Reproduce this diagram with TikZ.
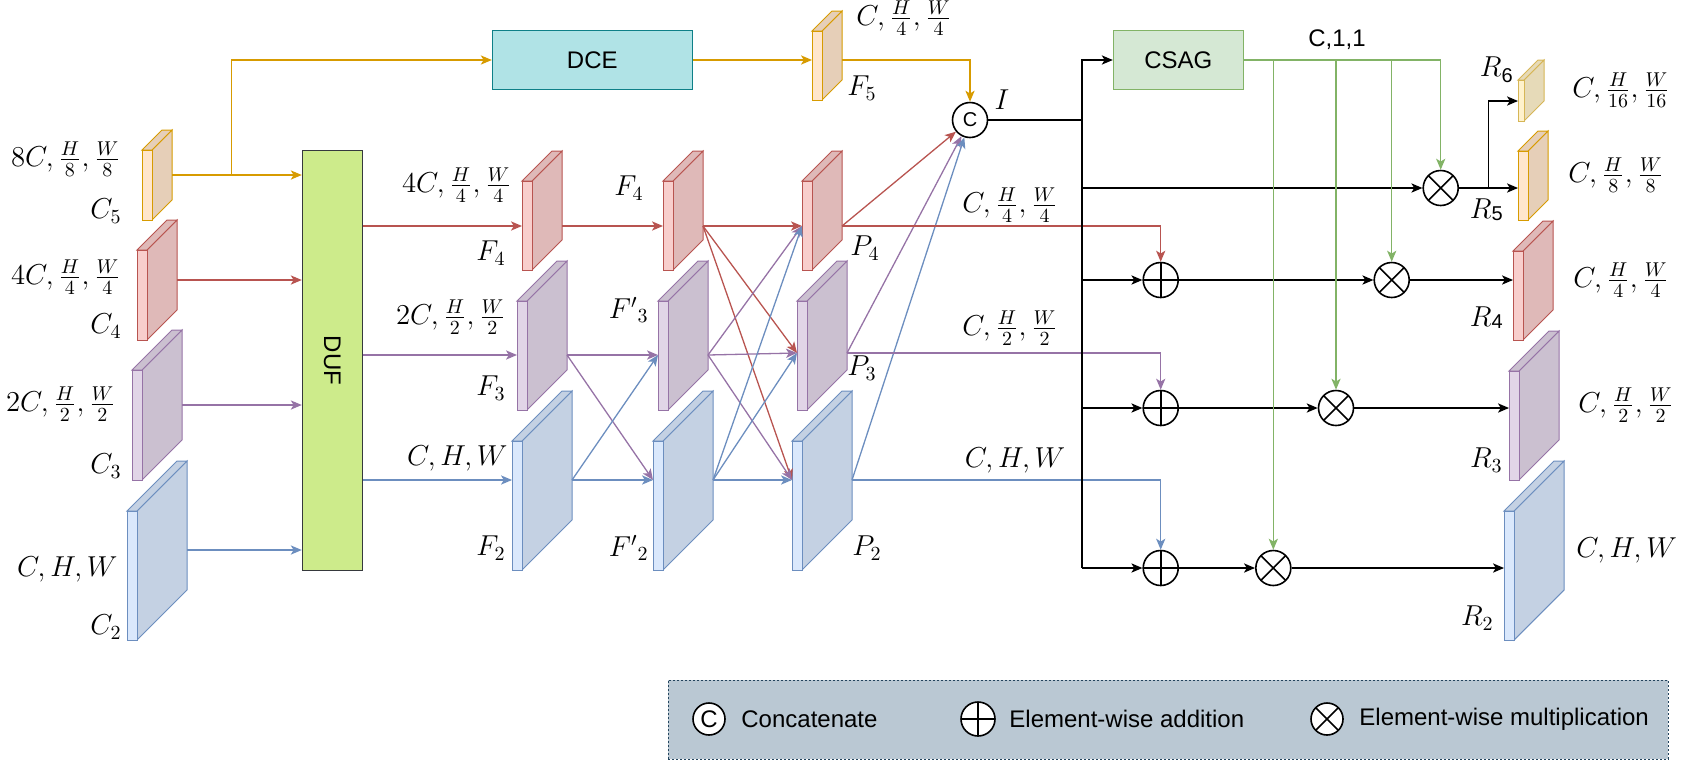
\documentclass[tikz,border=0pt]{standalone}
\usepackage{fontspec}
\setsansfont{Liberation Sans}
\usepackage{tikz}
\usetikzlibrary{arrows.meta, positioning}
\usepackage{xcolor}

\definecolor{yelline}{HTML}{D79B00}\definecolor{yelfront}{HTML}{FFE6CC}\definecolor{yelside}{HTML}{E6CFB8}
\definecolor{redline}{HTML}{B85450}\definecolor{redfront}{HTML}{F8CECC}\definecolor{redside}{HTML}{DFB9B8}
\definecolor{purline}{HTML}{9673A6}\definecolor{purfront}{HTML}{E1D5E7}\definecolor{purside}{HTML}{CBC0D0}
\definecolor{bluline}{HTML}{6C8EBF}\definecolor{blufront}{HTML}{DAE8FC}\definecolor{bluside}{HTML}{C4D1E3}
\definecolor{ltyline}{HTML}{D6B656}\definecolor{ltyfront}{HTML}{FFF2CC}\definecolor{ltyside}{HTML}{E6DAB8}
\definecolor{grnline}{HTML}{82B366}\definecolor{grnfill}{HTML}{D5E8D4}
\definecolor{dufline}{HTML}{36393D}\definecolor{duffill}{HTML}{CDEB8B}
\definecolor{dceline}{HTML}{0E8088}\definecolor{dcefill}{HTML}{B0E3E6}
\definecolor{legline}{HTML}{23445D}\definecolor{legfill}{HTML}{BAC8D3}

% feature map: name, x, y, w, h, depth, arrow y, colour
\newcommand{\fmap}[8]{%
  \filldraw[fill=#8side,draw=#8line,line width=0.5pt] (#2+#4-#6,#3+#6) -- (#2+#4,#3) -- (#2+#4,#3+#5-#6) -- (#2+#4-#6,#3+#5) -- cycle;
  \filldraw[fill=#8side,draw=#8line,line width=0.5pt] (#2,#3+#6) -- (#2+#6,#3) -- (#2+#4,#3) -- (#2+#4-#6,#3+#6) -- cycle;
  \filldraw[fill=#8front,draw=#8line,line width=0.5pt] (#2,#3+#6) rectangle (#2+#4-#6,#3+#5);
  \coordinate (#1-in) at (#2,#7);\coordinate (#1-out) at (#2+#4,#7);}

\begin{document}
\begin{tikzpicture}[x=0.5pt,y=-0.5pt,
    lbl/.style={font=\Large,inner sep=0pt},
    sflbl/.style={font=\sffamily\large,inner sep=0pt},
    arr/.style={-{Stealth[length=5.5pt,width=4.6pt,inset=1.4pt]},line width=0.65pt},
    blk/.style={arr,black,line width=0.75pt},
    busline/.style={line width=1.1pt},
    op/.style={draw,circle,line width=0.8pt,fill=white,minimum size=17.5pt,inner sep=0pt},
    addop/.style={op,path picture={\draw[line width=0.8pt] (path picture bounding box.north) -- (path picture bounding box.south)
        (path picture bounding box.west) -- (path picture bounding box.east);}},
    mulop/.style={op,path picture={\draw[line width=0.8pt] (path picture bounding box.center) ++(45:12pt) -- ++(225:24pt)
        (path picture bounding box.center) ++(135:12pt) -- ++(315:24pt);}},
    catop/.style={op,font=\sffamily},
    box/.style={draw,line width=0.5pt,minimum height=29.7pt,font=\sffamily\large}]
    \useasboundingbox (0,0) rectangle (1689,761);

    \fmap{C5}{142}{130}{30}{90}{20}{175}{yel}
    \fmap{C4}{137}{220}{40}{120}{30}{280}{red}
    \fmap{C3}{132}{330}{50}{150}{40}{405}{pur}
    \fmap{C2}{127}{461}{60}{179}{50}{550}{blu}
    \fmap{F5}{812}{11}{30}{89}{20}{60}{yel}
    \fmap{F4}{522}{151}{40}{119}{30}{226}{red}
    \fmap{F3}{517}{261}{50}{149}{40}{355}{pur}
    \fmap{F2}{512}{391}{60}{179}{50}{480}{blu}
    \fmap{G4}{663}{151}{40}{119}{30}{226}{red}
    \fmap{G3}{658}{261}{50}{149}{40}{355}{pur}
    \fmap{G2}{653}{391}{60}{179}{50}{480}{blu}
    \fmap{P4}{802}{151}{40}{119}{30}{226}{red}
    \fmap{P3}{797}{261}{50}{149}{40}{353}{pur}
    \fmap{P2}{792}{391}{60}{179}{50}{480}{blu}
    \fmap{R6}{1518}{60}{26}{61}{20}{101}{lty}
    \fmap{R5}{1518}{131}{30}{89}{20}{188}{yel}
    \fmap{R4}{1513}{221}{40}{119}{30}{280}{red}
    \fmap{R3}{1509}{331}{50}{149}{40}{408}{pur}
    \fmap{R2}{1504}{461}{60}{179}{50}{568}{blu}

    \node[box,draw=dufline,fill=duffill,minimum width=30pt,minimum height=210pt] (DUF) at (332.3,360.5) {};
    \node[sflbl,rotate=-90] (duftext) at (DUF) {DUF};
    \node[box,draw=dceline,fill=dcefill,minimum width=100pt] (DCE) at (592.3,60) {DCE};
    \node[box,draw=grnline,fill=grnfill,minimum width=65pt] (CSAG) at (1178.3,60) {CSAG};
    \node[catop] (cat) at (970,120) {C};
    \coordinate (c5split) at (231.7,175);
    \coordinate (bus) at (1082,120);
    \coordinate (r6split) at (1488.3,188);
    \node[mulop] (mul5) at (1440.7,188) {};
    \node[addop] (add4) at (1160.7,280) {};\node[mulop] (mul4) at (1391.7,280) {};
    \node[addop] (add3) at (1160.7,408) {};\node[mulop] (mul3) at (1336,408) {};
    \node[addop] (add2) at (1160.7,568) {};\node[mulop] (mul2) at (1273.3,568) {};

    \draw[arr,yelline] (C5-out) -- (DUF.west |- C5-out);\draw[arr,yelline] (c5split) |- (DCE.west);
    \draw[arr,redline] (C4-out) -- (DUF.west |- C4-out);
    \draw[arr,purline] (C3-out) -- (DUF.west |- C3-out);
    \draw[arr,bluline] (C2-out) -- (DUF.west |- C2-out);
    \draw[arr,yelline] (DCE.east) -- (F5-in);\draw[arr,yelline] (F5-out) -| (cat);
    \draw[arr,redline] (DUF.east |- F4-in) -- (F4-in);
    \draw[arr,purline] (DUF.east |- F3-in) -- (F3-in);
    \draw[arr,bluline] (DUF.east |- F2-in) -- (F2-in);
    \draw[arr,redline] (F4-out) -- (G4-in);
    \draw[arr,purline] (F3-out) -- (G3-in);\draw[arr,purline] (F3-out) -- (G2-in);
    \draw[arr,bluline] (F2-out) -- (G2-in);\draw[arr,bluline] (F2-out) -- (G3-in);
    \draw[arr,redline] (G4-out) -- (P4-in);\draw[arr,redline] (G4-out) -- (P3-in);\draw[arr,redline] (G4-out) -- (P2-in);
    \draw[arr,purline] (G3-out) -- (P3-in);\draw[arr,purline] (G3-out) -- (P4-in);\draw[arr,purline] (G3-out) -- (P2-in);
    \draw[arr,bluline] (G2-out) -- (P2-in);\draw[arr,bluline] (G2-out) -- (P3-in);\draw[arr,bluline] (G2-out) -- (P4-in);
    \draw[arr,redline] (P4-out) -- (cat);\draw[arr,purline] (P3-out) -- (cat);\draw[arr,bluline] (P2-out) -- (cat);
    \draw[arr,redline] (P4-out) -| (add4);
    \draw[arr,purline] (P3-out) -| (add3);
    \draw[arr,bluline] (P2-out) -| (add2);

    \draw[busline] (cat) -- (bus) -- (bus |- add2);
    \draw[blk] (bus) |- (CSAG.west);
    \draw[blk] (bus |- mul5) -- (mul5);
    \draw[blk] (bus |- add4) -- (add4);\draw[blk] (add4) -- (mul4);\draw[blk] (mul4) -- (R4-in);
    \draw[blk] (bus |- add3) -- (add3);\draw[blk] (add3) -- (mul3);\draw[blk] (mul3) -- (R3-in);
    \draw[blk] (bus |- add2) -- (add2);\draw[blk] (add2) -- (mul2);\draw[blk] (mul2) -- (R2-in);
    \draw[blk] (mul5) -- (R5-in);\draw[blk] (r6split) |- (R6-in);
    \draw[arr,grnline] (CSAG.east) -| (mul5);
    \draw[arr,grnline] (CSAG.east -| mul4) -- (mul4);
    \draw[arr,grnline] (CSAG.east -| mul3) -- (mul3);
    \draw[arr,grnline] (CSAG.east -| mul2) -- (mul2);

    \node[lbl,anchor=east] (lC5dim) at (121,159) {$8C,\frac{H}{8},\frac{W}{8}$};
    \node[lbl,anchor=east] (lC5) at (122,211) {$C_5$};
    \node[lbl,anchor=east] (lC4dim) at (121,277) {$4C,\frac{H}{4},\frac{W}{4}$};
    \node[lbl,anchor=east] (lC4) at (122,326) {$C_4$};
    \node[lbl,anchor=east] (lC3dim) at (116,404) {$2C,\frac{H}{2},\frac{W}{2}$};
    \node[lbl,anchor=east] (lC3) at (122,466) {$C_3$};
    \node[lbl,anchor=east] (lC2dim) at (118,569) {$C,H,W$};
    \node[lbl,anchor=east] (lC2) at (122,627) {$C_2$};
    \node[lbl,anchor=west] (lF5dim) at (856,18) {$C,\frac{H}{4},\frac{W}{4}$};
    \node[lbl,anchor=west] (lF5) at (847,88) {$F_5$};
    \node[lbl,anchor=east] (lF4dim) at (512,185) {$4C,\frac{H}{4},\frac{W}{4}$};
    \node[lbl,anchor=east] (lF4) at (506,253) {$F_4$};
    \node[lbl,anchor=east] (lF3dim) at (506,317) {$2C,\frac{H}{2},\frac{W}{2}$};
    \node[lbl,anchor=east] (lF3) at (506,388) {$F_3$};
    \node[lbl,anchor=east] (lF2dim) at (508,458) {$C,H,W$};
    \node[lbl,anchor=east] (lF2) at (506,548) {$F_2$};
    \node[lbl,anchor=east] (lG4) at (644,188) {$F_4$};
    \node[lbl,anchor=east] (lG3) at (649,310) {${F'}_3$};
    \node[lbl,anchor=east] (lG2) at (649,548) {${F'}_2$};
    \node[lbl,anchor=west] (lP4) at (850,248) {$P_4$};
    \node[lbl,anchor=west] (lP3) at (847,368) {$P_3$};
    \node[lbl,anchor=west] (lP2) at (852,548) {$P_2$};
    \node[lbl] (lI) at (1002,100) {$I$};
    \node[lbl] (lP4dim) at (1010,205) {$C,\frac{H}{4},\frac{W}{4}$};
    \node[lbl] (lP3dim) at (1010,328) {$C,\frac{H}{2},\frac{W}{2}$};
    \node[lbl] (lP2dim) at (1015,460) {$C,H,W$};
    \node[sflbl] (lgate) at (1337,40) {C,1,1};
    \node[lbl,anchor=east] (lR6) at (1513,70) {$R$\raisebox{-3pt}{\sffamily\normalsize 6}};
    \node[lbl,anchor=east] (lR5) at (1503,210) {$R$\raisebox{-1pt}{\sffamily\normalsize 5}};
    \node[lbl,anchor=east] (lR4) at (1503,318) {$R$\raisebox{-1pt}{\sffamily\normalsize 4}};
    \node[lbl,anchor=east] (lR3) at (1503,460) {$R_3$};
    \node[lbl,anchor=east] (lR2) at (1494,618) {$R_2$};
    \node[lbl,anchor=west] (lR6dim) at (1572,90) {$C,\frac{H}{16},\frac{W}{16}$};
    \node[lbl,anchor=west] (lR5dim) at (1568,175) {$C,\frac{H}{8},\frac{W}{8}$};
    \node[lbl,anchor=west] (lR4dim) at (1573,280) {$C,\frac{H}{4},\frac{W}{4}$};
    \node[lbl,anchor=west] (lR3dim) at (1578,405) {$C,\frac{H}{2},\frac{W}{2}$};
    \node[lbl,anchor=west] (lR2dim) at (1576,550) {$C,H,W$};

    \node[draw=legline,fill=legfill,line width=0.4pt,dash pattern=on 1.2pt off 0.8pt,
          minimum width=500pt,minimum height=39.5pt] (legend) at (1168,719.5) {};
    \node[catop,minimum size=16pt,font=\sffamily\large] (legcat) at (709,719) {C};
    \node[sflbl,anchor=west] (legcattext) at (741,719) {Concatenate};
    \node[addop,minimum size=17pt] (legadd) at (978,719) {};
    \node[sflbl,anchor=west] (legaddtext) at (1009,719) {Element-wise addition};
    \node[mulop,minimum size=16pt] (legmul) at (1327,719) {};
    \node[sflbl,anchor=west] (legmultext) at (1359,719) {Element-wise multiplication};
  \end{tikzpicture}
\end{document}
